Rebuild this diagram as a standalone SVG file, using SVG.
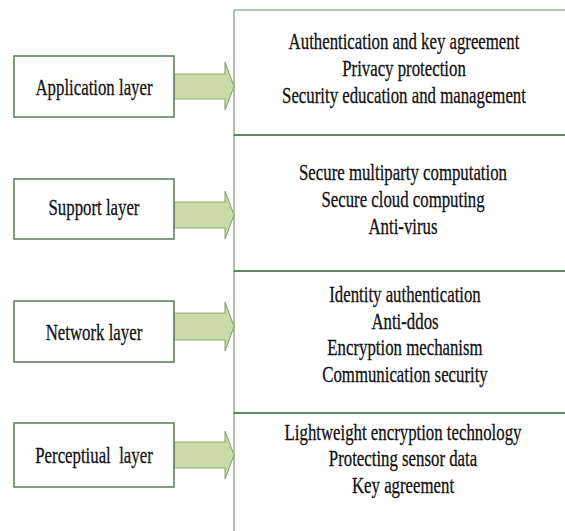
<svg xmlns="http://www.w3.org/2000/svg" width="565" height="531" viewBox="0 0 565 531">
<defs>
<style>
.box{fill:#ffffff;stroke:#4f6f52;stroke-width:1.4}
.arrow{fill:#cbdba8;stroke:#93ab7a;stroke-width:1.2}
.panel{stroke:#9fb0a0;stroke-width:1.6;fill:none}
.sep{stroke:#2f5f3a;stroke-width:1.6;fill:none}
.t{font-family:'Liberation Serif','Times New Roman',serif;font-size:24px;fill:#111111;stroke:#111111;stroke-width:0.3;text-anchor:middle}
</style>
</defs>
<rect x="0" y="0" width="565" height="531" fill="#ffffff"/>
<g id="panel">
<line class="panel" x1="234" y1="10" x2="234" y2="531"/>
<line class="panel" x1="234" y1="10" x2="565" y2="10"/>
<line class="sep" x1="234" y1="135" x2="565" y2="135"/>
<line class="sep" x1="234" y1="271" x2="565" y2="271"/>
<line class="sep" x1="234" y1="413" x2="565" y2="413"/>
</g>
<g id="connectors">
<path class="arrow" d="M174,74 H225 V62 L234,86.5 L225,110 V99 H174 Z"/>
<path class="arrow" d="M174,202 H225 V191 L234,215 L225,239 V228 H174 Z"/>
<path class="arrow" d="M174,313 H225 V302 L234,326.5 L225,351 V340 H174 Z"/>
<path class="arrow" d="M174,442 H225 V431 L234,455 L225,479 V468 H174 Z"/>
</g>
<g id="application">
<rect class="box" x="14" y="56" width="160" height="61"/>
<text class="t" transform="translate(94,95) scale(0.7,1)">Application layer</text>
</g>
<g id="support">
<rect class="box" x="14" y="179" width="160" height="60"/>
<text class="t" transform="translate(94,215) scale(0.7,1)">Support layer</text>
</g>
<g id="network">
<rect class="box" x="14" y="301" width="160" height="61"/>
<text class="t" transform="translate(94,340) scale(0.7,1)">Network layer</text>
</g>
<g id="perceptual">
<rect class="box" x="14" y="423" width="160" height="64"/>
<text class="t" transform="translate(94,463) scale(0.7,1)">Perceptiual&#160; layer</text>
</g>
<g id="application-measures">
<text class="t" transform="translate(404,49) scale(0.7,1)"><tspan x="0" y="0">Authentication and key agreement</tspan><tspan x="0" y="27">Privacy protection</tspan><tspan x="0" y="54">Security education and management</tspan></text>
</g>
<g id="support-measures">
<text class="t" transform="translate(403,180) scale(0.7,1)"><tspan x="0" y="0">Secure multiparty computation</tspan><tspan x="0" y="27">Secure cloud computing</tspan><tspan x="0" y="54">Anti-virus</tspan></text>
</g>
<g id="network-measures">
<text class="t" transform="translate(405,302) scale(0.7,1)"><tspan x="0" y="0">Identity authentication</tspan><tspan x="0" y="27">Anti-ddos</tspan><tspan x="0" y="53">Encryption mechanism</tspan><tspan x="0" y="80">Communication security</tspan></text>
</g>
<g id="perceptual-measures">
<text class="t" transform="translate(403,440) scale(0.7,1)"><tspan x="0" y="0">Lightweight encryption technology</tspan><tspan x="0" y="26.5">Protecting sensor data</tspan><tspan x="0" y="53">Key agreement</tspan></text>
</g>
</svg>
